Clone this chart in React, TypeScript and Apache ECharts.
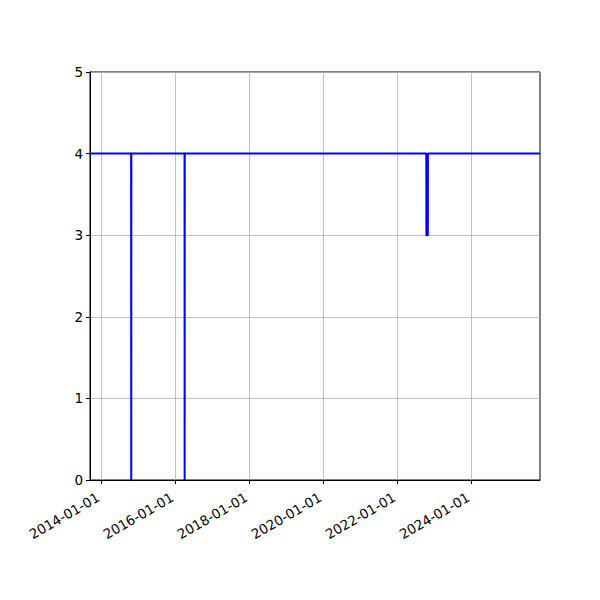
import React, { useRef, useEffect } from 'react';
import * as echarts from 'echarts';

const dates = [
  '2013-09-08', '2014-10-19', '2014-10-20', '2014-10-21',
  '2016-03-29', '2016-03-30', '2016-03-31',
  '2022-10-10', '2022-10-11', '2022-10-25', '2022-10-26', '2025-11-05',
];
const values = [4, 4, 0, 4, 4, 0, 4, 4, 3, 3, 4, 4];
const tickYears = [2014, 2016, 2018, 2020, 2022, 2024];
const xMin = '2013-09-08';
const xMax = '2025-11-05';

const pad = (n: number) => (n < 10 ? '0' + n : '' + n);
const toTime = (s: string) => {
  const [y, m, d] = s.split('-').map(Number);
  return new Date(y, m - 1, d).getTime();
};
const fmt = (v: number) => {
  const d = new Date(v);
  return d.getFullYear() + '-' + pad(d.getMonth() + 1) + '-' + pad(d.getDate());
};

const App: React.FC = () => {
  const chartRef = useRef<HTMLDivElement>(null);

  useEffect(() => {
    if (!chartRef.current) return;
    const chart = echarts.init(chartRef.current, null, { renderer: 'svg' });
    const ticks = tickYears.map((y) => new Date(y, 0, 1).getTime());
    const font = { fontFamily: 'DejaVu Sans', fontSize: 13.5, color: '#000' };

    const option: echarts.EChartsOption = {
      animation: false,
      grid: {
        left: 90, right: 60, top: 72, bottom: 120,
        show: true, borderColor: '#000', borderWidth: 1,
      },
      xAxis: {
        type: 'value',
        min: toTime(xMin),
        max: toTime(xMax),
        axisLine: { lineStyle: { color: '#000', width: 1 } },
        axisTick: { show: true, length: 4, lineStyle: { color: '#000' }, customValues: ticks } as any,
        axisLabel: {
          ...font, rotate: 30, margin: 14, padding: [0, 4, 0, 0],
          customValues: ticks,
          formatter: (v: number) => fmt(v),
        } as any,
        splitLine: { show: true, lineStyle: { color: '#b0b0b0', width: 0.8 } },
      },
      yAxis: {
        type: 'value',
        min: 0, max: 5, interval: 1,
        axisLine: { show: true, lineStyle: { color: '#000', width: 1 } },
        axisTick: { show: true, length: 4, lineStyle: { color: '#000' } },
        axisLabel: { ...font, margin: 7 },
        splitLine: { show: true, lineStyle: { color: '#b0b0b0', width: 0.8 } },
      },
      series: [
        {
          type: 'line',
          data: dates.map((d, i) => [toTime(d), values[i]]),
          showSymbol: false,
          lineStyle: { color: '#0000ff', width: 2 },
          itemStyle: { color: '#0000ff' },
        },
      ],
    };
    chart.setOption(option);
    return () => chart.dispose();
  }, []);

  return <div ref={chartRef} style={{ width: 600, height: 600, margin: -8 }} />;
};

export default App;
